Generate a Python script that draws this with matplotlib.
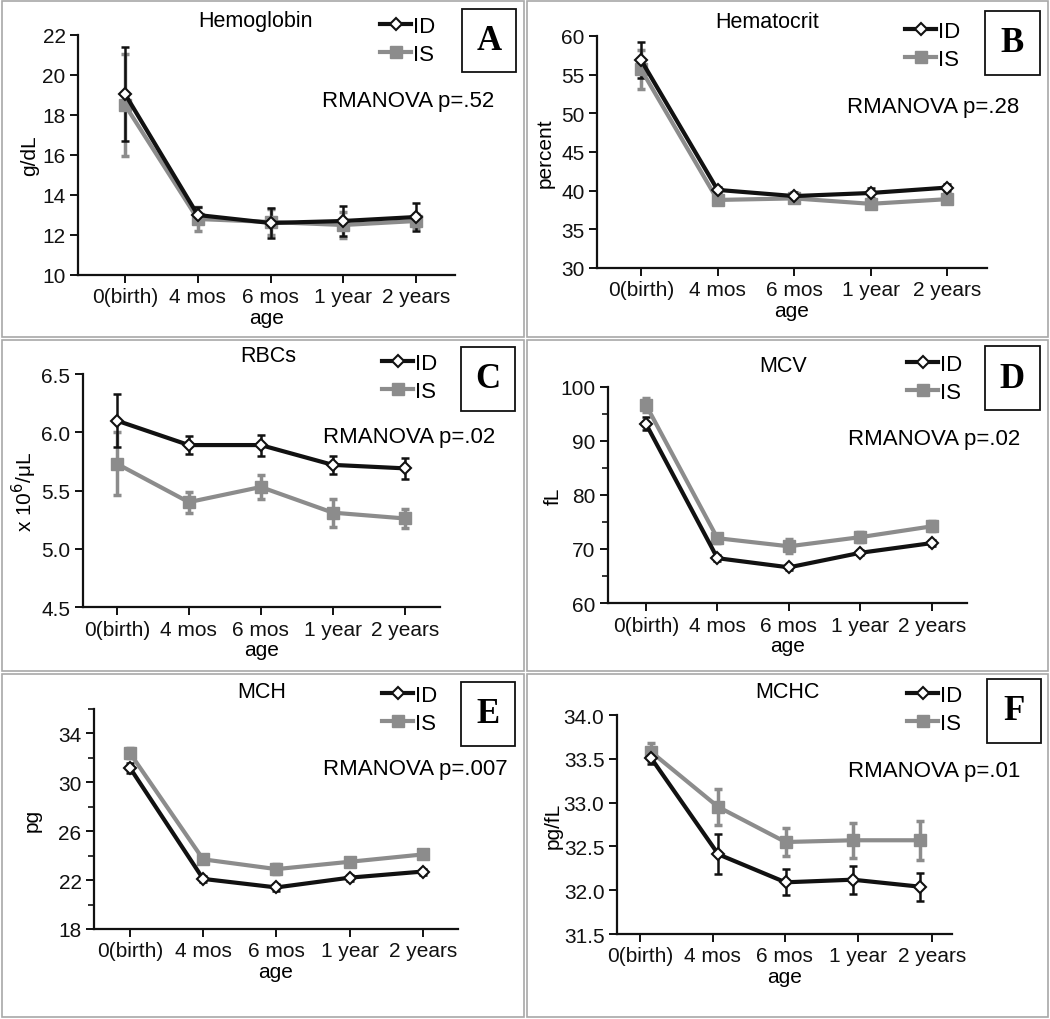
import numpy as np
import matplotlib
matplotlib.use("Agg")
import matplotlib.pyplot as plt
from matplotlib.patches import Rectangle
from matplotlib.ticker import FixedLocator, FormatStrFormatter

plt.rcParams['font.family'] = ['Liberation Sans', 'DejaVu Sans']

W, H = 1050, 1020

ages = ["0(birth)", "4 mos", "6 mos", "1 year", "2 years"]
groups = ["ID", "IS"]

# A - hemoglobin (g/dL)
hb_id = [19.05, 13.0, 12.6, 12.7, 12.9]
hb_id_err = [2.35, 0.4, 0.75, 0.75, 0.7]
hb_is = [18.5, 12.8, 12.65, 12.5, 12.7]
hb_is_err = [2.55, 0.6, 0.65, 0.65, 0.35]

# B - hematocrit (percent)
hct_id = [56.9, 40.1, 39.3, 39.7, 40.4]
hct_id_err = [2.3, 0.4, 0.5, 0.6, 0.5]
hct_is = [55.7, 38.8, 39.0, 38.3, 38.9]
hct_is_err = [2.5, 0.4, 0.5, 0.5, 0.4]

# C - RBCs (x10^6/uL)
rbc_id = [6.10, 5.89, 5.89, 5.72, 5.69]
rbc_id_err = [0.23, 0.08, 0.09, 0.08, 0.09]
rbc_is = [5.73, 5.40, 5.53, 5.31, 5.26]
rbc_is_err = [0.27, 0.09, 0.10, 0.12, 0.08]

# D - MCV (fL)
mcv_id = [93.2, 68.3, 66.6, 69.3, 71.1]
mcv_id_err = [1.2, 0.5, 0.5, 0.5, 0.5]
mcv_is = [96.7, 72.0, 70.5, 72.2, 74.2]
mcv_is_err = [1.3, 0.8, 1.3, 0.9, 0.9]

# E - MCH (pg)
mch_id = [31.2, 22.1, 21.4, 22.2, 22.7]
mch_id_err = [0.4, 0.25, 0.25, 0.25, 0.25]
mch_is = [32.4, 23.7, 22.9, 23.5, 24.1]
mch_is_err = [0.4, 0.3, 0.4, 0.3, 0.3]

# F - MCHC (pg/fL)
mchc_id = [33.51, 32.41, 32.09, 32.12, 32.04]
mchc_id_err = [0.07, 0.23, 0.15, 0.16, 0.16]
mchc_is = [33.58, 32.95, 32.55, 32.57, 32.57]
mchc_is_err = [0.1, 0.21, 0.16, 0.2, 0.22]

panels = [
    dict(letter="A", title="Hemoglobin", ylabel="g/dL", p="RMANOVA p=.52",
         ids=(hb_id, hb_id_err), iss=(hb_is, hb_is_err),
         ylim=(10, 22), yticks=np.arange(10, 22.1, 2), minor=None, fmt="%d",
         ax=(78, 36, 455, 276), xlim=(-0.646, 4.536),
         cell=(2, 2, 524, 338), box=(462, 10, 516, 73),
         tx=255, ty=22, px=322, py=102, lx=380, ly=17, ylx=30),
    dict(letter="B", title="Hematocrit", ylabel="percent", p="RMANOVA p=.28",
         ids=(hct_id, hct_id_err), iss=(hct_is, hct_is_err),
         ylim=(30, 60), yticks=np.arange(30, 60.1, 5), minor=None, fmt="%d",
         ax=(597, 37, 987, 269), xlim=(-0.575, 4.52),
         cell=(527, 2, 1048, 338), box=(985, 12, 1040, 76),
         tx=767, ty=22, px=847, py=107, lx=905, ly=22, ylx=545),
    dict(letter="C", title="RBCs", ylabel="x 10$^{6}$/\u03bcL", p="RMANOVA p=.02",
         ids=(rbc_id, rbc_id_err), iss=(rbc_is, rbc_is_err),
         ylim=(4.5, 6.5), yticks=np.arange(4.5, 6.51, 0.5), minor=None, fmt="%.1f",
         ax=(83, 375, 440, 608), xlim=(-0.47, 4.49),
         cell=(2, 341, 524, 672), box=(461, 348, 515, 412),
         tx=268, ty=357, px=323, py=438, lx=382, ly=354, ylx=24),
    dict(letter="D", title="MCV", ylabel="fL", p="RMANOVA p=.02",
         ids=(mcv_id, mcv_id_err), iss=(mcv_is, mcv_is_err),
         ylim=(60, 100), yticks=np.arange(60, 100.1, 10), minor=np.arange(65, 100, 10),
         fmt="%d",
         ax=(608, 388, 967, 604), xlim=(-0.53, 4.49),
         cell=(527, 341, 1048, 672), box=(985, 347, 1040, 411),
         tx=783, ty=366, px=848, py=439, lx=907, ly=355, ylx=553),
    dict(letter="E", title="MCH", ylabel="pg", p="RMANOVA p=.007",
         ids=(mch_id, mch_id_err), iss=(mch_is, mch_is_err),
         ylim=(18, 36), yticks=np.arange(18, 34.1, 4), minor=np.arange(20, 36.1, 4),
         fmt="%d",
         ax=(94, 710, 458, 930), xlim=(-0.49, 4.48),
         cell=(2, 675, 524, 1018), box=(461, 683, 515, 747),
         tx=262, ty=693, px=323, py=770, lx=382, ly=686, ylx=32),
    dict(letter="F", title="MCHC", ylabel="pg/fL", p="RMANOVA p=.01",
         ids=(mchc_id, mchc_id_err), iss=(mchc_is, mchc_is_err),
         ylim=(31.5, 34.0), yticks=np.arange(31.5, 34.01, 0.5), minor=None, fmt="%.1f",
         ax=(617, 716, 952, 935), xlim=(-0.506, 4.476),
         cell=(527, 675, 1048, 1018), box=(987, 680, 1041, 744),
         tx=787, ty=692, px=848, py=772, lx=907, ly=686, ylx=553,
         ticks=[-0.164, 0.92, 1.99, 3.08, 4.18]),
]

def fx(x):
    return x / W

def fy(y):
    return 1 - y / H

fig = plt.figure(figsize=(W / 100, H / 100), dpi=100)

ID_COL = "#111111"
IS_COL = "#8c8c8c"
FS = 15

for pn in panels:
    # panel cell border
    l, t, r, b = pn["cell"]
    fig.patches.append(Rectangle((fx(l), fy(b)), fx(r - l), (b - t) / H,
                                 transform=fig.transFigure, fill=False,
                                 edgecolor="#a8a8a8", lw=1.2))

    l, t, r, b = pn["ax"]
    ax = fig.add_axes([fx(l), fy(b), fx(r - l), (b - t) / H])
    x = np.arange(len(ages))
    y_id, e_id = pn["ids"]
    y_is, e_is = pn["iss"]

    ax.errorbar(x, y_is, yerr=e_is, fmt="none", ecolor=IS_COL, elinewidth=2.5,
                capsize=3, capthick=2.5, zorder=2)
    ax.errorbar(x, y_id, yerr=e_id, fmt="none", ecolor=ID_COL, elinewidth=1.8,
                capsize=3, capthick=1.8, zorder=3)
    h_id, = ax.plot(x, y_id, color=ID_COL, lw=3, marker="D", ms=6,
                    mfc="white", mec=ID_COL, mew=1.5, zorder=4, label="ID")
    h_is, = ax.plot(x, y_is, color=IS_COL, lw=3, marker="s", ms=9,
                    mfc=IS_COL, mec=IS_COL, zorder=3, label="IS")

    ax.set_xlim(*pn["xlim"])
    ax.set_ylim(*pn["ylim"])
    ax.set_xticks(pn.get("ticks", x))
    ax.set_xticklabels(ages)
    ax.yaxis.set_major_locator(FixedLocator(pn["yticks"]))
    if pn["minor"] is not None:
        ax.yaxis.set_minor_locator(FixedLocator(pn["minor"]))
    ax.yaxis.set_major_formatter(FormatStrFormatter(pn["fmt"]))
    for s in ["top", "right"]:
        ax.spines[s].set_visible(False)
    for s in ["left", "bottom"]:
        ax.spines[s].set_linewidth(1.6)
        ax.spines[s].set_color("#111111")
    ax.tick_params(axis="both", which="major", length=6, width=1.4,
                   labelsize=FS, direction="out", colors="#111111", pad=3)
    ax.tick_params(axis="y", which="minor", length=4, width=1.2, color="#111111")
    ax.set_xlabel("age", fontsize=FS, labelpad=1)
    ax.set_facecolor("none")

    # y label in figure coords
    ymid = (t + b) / 2
    fig.text(fx(pn["ylx"]), fy(ymid), pn["ylabel"], rotation=90,
             ha="center", va="center", fontsize=FS)

    fig.text(fx(pn["tx"]), fy(pn["ty"]), pn["title"], ha="center", va="center",
             fontsize=15.5)
    fig.text(fx(pn["px"]), fy(pn["py"]), pn["p"], ha="left", va="center",
             fontsize=16)

    ax.legend(handles=[h_id, h_is], loc="upper left",
              bbox_to_anchor=(fx(pn["lx"]), fy(pn["ly"])),
              bbox_transform=fig.transFigure, frameon=False, fontsize=16,
              handlelength=1.4, handletextpad=0.1, labelspacing=0.3,
              borderpad=0, borderaxespad=0)

    l, t, r, b = pn["box"]
    fig.patches.append(Rectangle((fx(l), fy(b)), fx(r - l), (b - t) / H,
                                 transform=fig.transFigure, fill=False,
                                 edgecolor="#111111", lw=1.3))
    fig.text(fx((l + r) / 2), fy((t + b) / 2), pn["letter"], ha="center",
             va="center", fontsize=25, fontweight="bold",
             family=["Liberation Serif", "DejaVu Serif"])

fig.savefig("out.png", dpi=100, facecolor="white")
